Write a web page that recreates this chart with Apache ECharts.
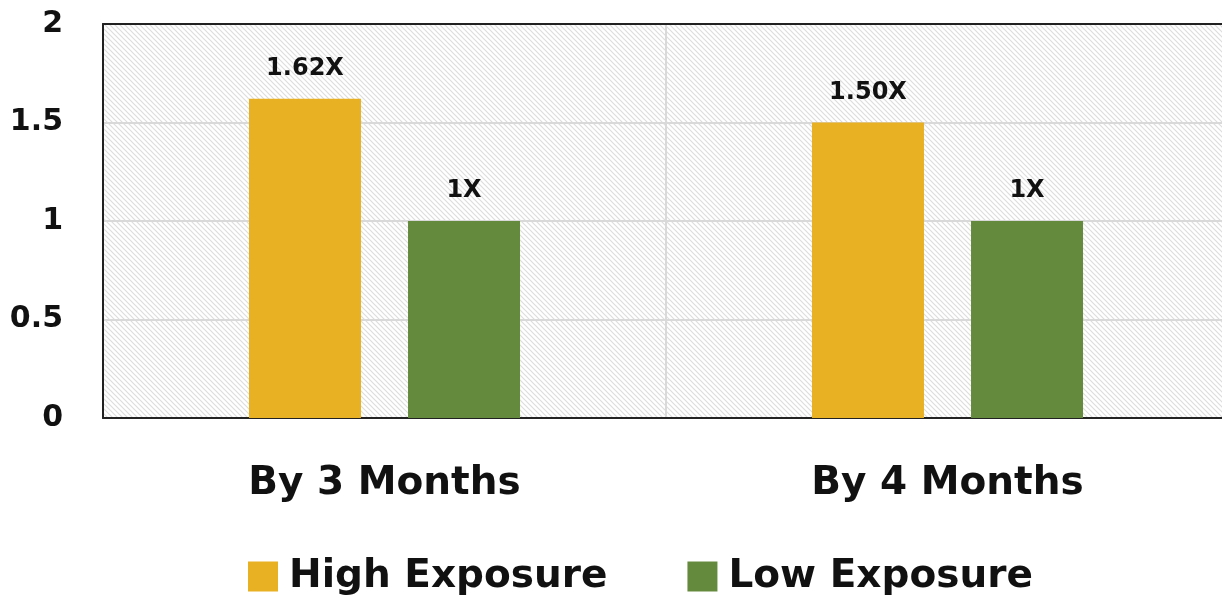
<!DOCTYPE html>
<html>
<head>
<meta charset="utf-8">
<script src="https://cdn.jsdelivr.net/npm/echarts@6/dist/echarts.min.js"></script>
<style>
html, body { margin: 0; padding: 0; background: #fff; }
#main { width: 1222px; height: 601px; }
</style>
</head>
<body>
<div id="main"></div>
<script>
var categories = ['By 3 Months', 'By 4 Months'];
var highValues = [1.62, 1.50];
var lowValues = [1, 1];
var highLabels = ['1.62X', '1.50X'];
var lowLabels = ['1X', '1X'];
var yTicks = [0, 0.5, 1, 1.5, 2];

// diagonal hatch for plot background
function makeHatch(){
	var c = document.createElement('canvas');
	c.width = 5; c.height = 5;
	var ctx = c.getContext('2d');
	ctx.fillStyle = '#ffffff';
	ctx.fillRect(0, 0, 5, 5);
	ctx.strokeStyle = '#dddddd';
	ctx.lineWidth = 1.2;
	ctx.beginPath();
	ctx.moveTo(-1, -1); ctx.lineTo(6, 6);
	ctx.moveTo(-4, 1); ctx.lineTo(3, 8);
	ctx.moveTo(1, -4); ctx.lineTo(8, 3);
	ctx.stroke();
	return c;
}

var font = '"DejaVu Sans", sans-serif';
var chart = echarts.init(document.getElementById('main'));
var option = {
	animation: false,
	grid: {
		left: 103, top: 24, width: 1126, height: 394,
		outerBoundsMode: 'none',
		containLabel: false,
		show: true,
		backgroundColor: { image: makeHatch(), repeat: 'repeat' },
		borderWidth: 0
	},
	legend: {
		bottom: 0,
		left: 243,
		itemWidth: 30,
		itemHeight: 30,
		itemGap: 80,
		icon: 'rect',
		textStyle: { fontFamily: font, fontWeight: 'bold', fontSize: 39, color: '#111', padding: [0, 0, 0, 6] },
		data: ['High Exposure', 'Low Exposure']
	},
	xAxis: [
		{
			type: 'category',
			data: categories,
			axisLine: { lineStyle: { color: '#222', width: 2 } },
			axisTick: { show: false },
			splitLine: { show: true, lineStyle: { color: '#d9d9d9', width: 2 } },
			axisLabel: { fontFamily: font, fontWeight: 'bold', fontSize: 39, color: '#111', margin: 46 }
		},
		{
			// top frame line
			type: 'category',
			position: 'top',
			data: categories,
			axisLine: { lineStyle: { color: '#222', width: 2 } },
			axisTick: { show: false },
			axisLabel: { show: false },
			splitLine: { show: false }
		}
	],
	yAxis: {
		type: 'value',
		min: yTicks[0],
		max: yTicks[yTicks.length - 1],
		interval: 0.5,
		axisLine: { show: true, lineStyle: { color: '#222', width: 2 } },
		axisTick: { show: false },
		splitLine: { lineStyle: { color: '#d9d9d9', width: 2 } },
		axisLabel: { fontFamily: font, fontWeight: 'bold', fontSize: 30, color: '#111', margin: 40 }
	},
	series: [
		{
			name: 'High Exposure',
			type: 'bar',
			data: highValues,
			barWidth: 112,
			barGap: '42%',
			itemStyle: { color: '#E8B023' },
			label: {
				show: true, position: 'top', distance: 18,
				fontFamily: font, fontWeight: 'bold', fontSize: 24, color: '#111',
				formatter: function(p){ return highLabels[p.dataIndex]; }
			}
		},
		{
			name: 'Low Exposure',
			type: 'bar',
			data: lowValues,
			barWidth: 112,
			itemStyle: { color: '#648A3D' },
			label: {
				show: true, position: 'top', distance: 18,
				fontFamily: font, fontWeight: 'bold', fontSize: 24, color: '#111',
				formatter: function(p){ return lowLabels[p.dataIndex]; }
			}
		}
	]
};
chart.setOption(option);
</script>
</body>
</html>
